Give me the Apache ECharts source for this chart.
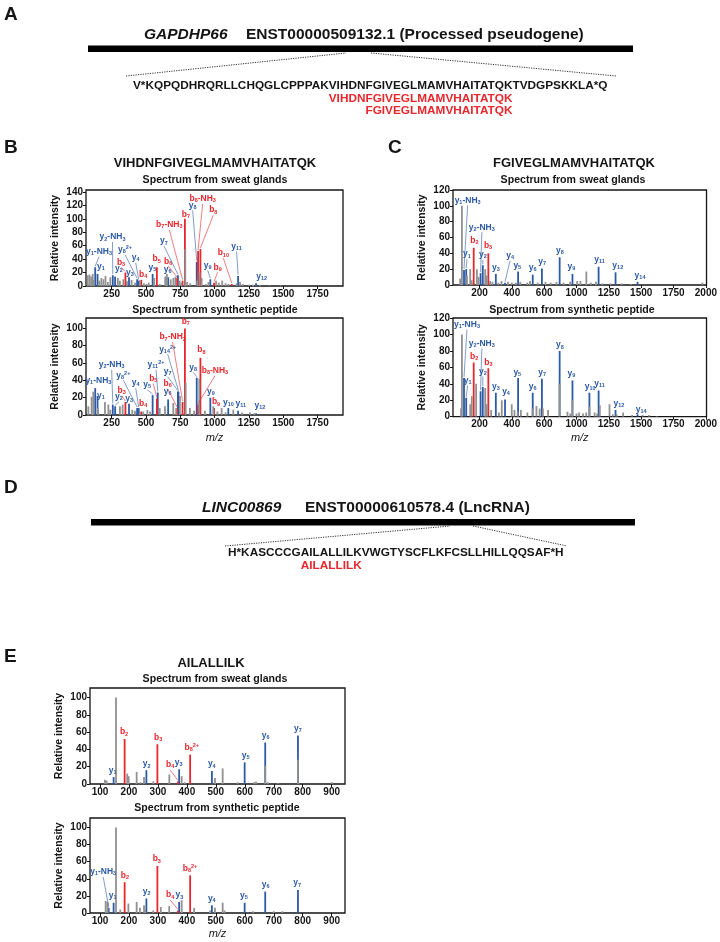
<!DOCTYPE html>
<html><head><meta charset="utf-8">
<script src="https://cdn.jsdelivr.net/npm/echarts@6/dist/echarts.min.js"></script>
<style>html,body{margin:0;padding:0;background:#fff}#c{width:720px;height:942px}</style>
</head><body><div id="c"></div>
<script>
// ================= DATA =================
// Panel A / D gene models
const geneA = 'GAPDHP66';
const transcriptA = 'ENST00000509132.1 (Processed pseudogene)';
const seqA = 'V*KQPQDHRQRLLCHQGLCPPPAKVIHDNFGIVEGLMAMVHAITATQKTVDGPSKKLA*Q';
const peptidesA = ['VIHDNFGIVEGLMAMVHAITATQK', 'FGIVEGLMAMVHAITATQK'];
const geneD = 'LINC00869';
const transcriptD = 'ENST00000610578.4 (LncRNA)';
const seqD = 'H*KASCCCGAILALLILKVWGTYSCFLKFCSLLHILLQQSAF*H';
const peptidesD = ['AILALLILK'];
const spectrumTitles = ['Spectrum from sweat glands', 'Spectrum from synthetic peptide'];
const yAxisTitle = 'Relative intensity';
const xAxisTitle = 'm/z';

// Tick values / labels
const bXTicks = [250, 500, 750, 1000, 1250, 1500, 1750];
const bXTickLabels = ['250', '500', '750', '1000', '1250', '1500', '1750'];
const cXTicks = [250, 500, 750, 1000, 1250, 1500, 1750, 2000];
const cXTickLabels = ['200', '400', '600', '1000', '1250', '1500', '1750', '2000'];
const eXTicks = [100, 200, 300, 400, 500, 600, 700, 800, 900];
const eXTickLabels = ['100', '200', '300', '400', '500', '600', '700', '800', '900'];
const yTicks140 = [0, 20, 40, 60, 80, 100, 120, 140];
const yTicks120 = [0, 20, 40, 60, 80, 100, 120];
const yTicks100 = [0, 20, 40, 60, 80, 100];

// ---- B top: VIHDNFGIVEGLMAMVHAITATQK, sweat glands ----  [ion, m/z, intensity]
const bTopIons = [
  ['y1-NH3',130.1,28],['y1',147.1,18],['y2-NH3',258.1,16],['y2',275.2,14],['b3',350.2,20],
  ['y3',376.2,13],['y8^2+',435.3,10],['y4',447.3,8],['b4',465.3,9],['y5',548.3,18],
  ['b5',579.3,28],['y6',661.4,13],['b6',726.4,12],['y7',732.4,16],['b7-NH3',766.3,8],
  ['b7',783.4,100],['y8',869.5,36],['b8-NH3',879.4,52],['b8',896.5,55],['y9',968.6,10],
  ['b9',995.5,5],['b10',1124.6,3],['y11',1170.6,15],['y12',1301.7,4]
];
const bTopLabelAt = [
  [158,51],[172,29],[256,73],[303,26],[318,35],[383,20],[347,54],[425,42],[480,17],[546,27],
  [578,40],[658,25],[662,37],[631,67],[670,91],[791,107],[840,120],[913,130],[990,113],[949,31],
  [1022,28],[1063,49],[1160,59],[1342,14]
];
const bTopGrey = [
  [75,16],[88,17],[100,14],[112,18],[120,9],[160,8],[175,12],[190,10],[205,15],[222,6],[240,13],
  [295,12],[310,8],[335,10],[362,7],[395,9],[420,5],[455,8],[485,4],[505,3],[520,5],[560,12],
  [600,3],[640,14],[652,18],[680,10],[700,12],[715,14],[745,8],[758,5],[786,55],[800,6],[822,4],
  [872,8],[890,20],[905,12],[935,3],[955,6],[1010,8],[1030,5],[1055,8],[1080,4],[1100,3],
  [1160,4],[1185,6],[1205,3],[1250,2],[1280,2],[1330,2],[1400,1],[1480,1]
];

// ---- B bottom: synthetic ----
const bBotIons = [
  ['y1-NH3',130.1,31],['y1',147.1,22],['y2-NH3',258.1,12],['y2',275.2,10],['b3',350.2,15],
  ['y3',376.2,13],['y8^2+',435.3,8],['y4',447.3,8],['b4',465.3,4],['y5',548.3,23],
  ['b5',579.3,19],['y11^2+',585.8,26],['y6',661.4,18],['b6',726.4,8],['y7',732.4,27],
  ['y14^2+',736.4,27],['b7-NH3',766.3,15],['b7',783.4,100],['y8',869.5,43],['b8-NH3',879.4,12],
  ['b8',896.5,66],['y9',968.6,20],['b9',995.5,8],['y10',1099.6,8],['y11',1170.6,5],['y12',1301.7,2]
];
const bBotLabelAt = [
  [153,40],[172,22],[250,58],[303,21],[323,28],[378,19],[335,46],[425,37],[480,13],[509,35],
  [553,42],[573,58],[658,27],[658,36],[658,50],[658,76],[694,90],[790,108],[844,55],[1002,51],
  [903,75],[973,27],[1010,15],[1100,14],[1190,13],[1330,11]
];
const bBotGrey = [
  [80,10],[104,21],[116,27],[150,8],[201,15],[226,12],[240,6],[310,10],[330,12],[400,6],[420,5],
  [456,3],[480,4],[510,6],[530,4],[600,8],[638,10],[699,14],[720,8],[747,22],[789,37],[820,8],
  [850,5],[888,42],[929,5],[990,10],[1020,4],[1051,8],[1080,3],[1136,6],[1200,3],[1257,3],[1290,2]
];

// ---- C top: FGIVEGLMAMVHAITATQK, sweat glands ----
const cTopIons = [
  ['y1-NH3',130.1,19],['y1',147.1,20],['b2',205.1,47],['y2-NH3',258.1,15],['y2',275.2,25],
  ['b3',318.2,40],['y3',376.2,14],['y4',447.3,3],['y5',548.3,17],['y6',661.4,13],['y7',732.4,21],
  ['y8',869.5,35],['y9',968.6,14],['y11',1170.7,23],['y12',1301.7,16],['y14',1471.8,4]
];
const cTopLabelAt = [
  [158,107],[153,39],[211,56],[268,73],[276,38],[316,50],[376,22],[486,37],[542,25],[660,22],
  [735,30],[871,44],[960,23],[1178,32],[1319,25],[1491,12]
];
const cTopGrey = [
  [100,8],[114,100],[153,12],[178,20],[190,6],[230,20],[243,10],[294,20],[306,12],[332,5],[350,4],
  [395,3],[420,5],[470,4],[500,3],[530,3],[565,4],[620,3],[640,5],[700,3],[760,4],[800,3],[845,4],
  [900,3],[950,4],[1005,5],[1030,5],[1076,17],[1110,3],[1150,4],[1200,2],[1260,2],[1350,2],
  [1420,1],[1973,3]
];

// ---- C bottom: synthetic ----
const cBotIons = [
  ['y1-NH3',130.1,47],['y1',147.1,23],['b2',205.1,66],['y2-NH3',258.1,31],['y2',275.2,36],
  ['b3',318.2,59],['y3',376.2,29],['y4',447.3,21],['y5',548.3,47],['y6',661.4,29],['y7',732.4,46],
  ['y8',869.5,80],['y9',968.6,44],['y10',1099.6,29],['y11',1170.7,32],['y12',1301.7,8],['y14',1471.8,3]
];
const cBotLabelAt = [
  [153,112],[158,44],[209,73],[268,89],[276,55],[319,66],[376,37],[455,31],[542,54],[660,37],
  [735,54],[871,87],[960,52],[1106,37],[1178,40],[1327,16],[1499,9]
];
const cBotGrey = [
  [107,10],[114,100],[178,15],[190,25],[224,40],[294,35],[306,15],[340,8],[400,5],[422,20],
  [499,15],[520,8],[545,6],[570,8],[620,5],[660,10],[690,13],[715,10],[740,10],[780,8],[868,40],
  [930,6],[952,4],[968,20],[1000,4],[1020,5],[1050,4],[1075,5],[1100,12],[1140,5],[1160,4],
  [1180,14],[1255,15],[1280,3],[1310,3],[1360,5],[1430,2],[1510,2],[1560,2],[1620,1]
];

// ---- E top: AILALLILK, sweat glands ----
const eTopIons = [
  ['y1',147.1,8],['b2',185.1,52],['y2',260.2,16],['b3',298.2,46],['b4',369.3,3],['y3',373.3,17],
  ['b8^2+',411.3,34],['y4',486.4,15],['y5',599.5,25],['y6',670.5,48],['y7',783.6,56]
];
const eTopLabelAt = [
  [144,16],[183,60],[261,23],[301,54],[342,22],[372,25],[417,42],[486,23],[603,33],[672,56],[783,64]
];
const eTopGrey = [
  [117,5],[123,4],[155.3,100],[194,12],[199,9],[226.6,14],[240,2],[252,8],[284,3],[339.4,11],
  [382,9],[393,2],[497,7],[523.6,18],[575,2],[632,2],[639,3],[670.5,21],[680,2],[715,1],
  [783.6,28],[900,2]
];

// ---- E bottom: synthetic ----
const eBotIons = [
  ['y1-NH3',130.1,6],['y1',147.1,12],['b2',185.1,36],['y2',260.2,17],['b3',298.2,55],
  ['b4',369.3,3],['y3',373.3,13],['b8^2+',411.3,44],['y4',486.4,9],['y5',599.5,12],
  ['y6',670.5,25],['y7',783.6,27]
];
const eBotLabelAt = [
  [111,48],[144,20],[186,44],[261,25],[296,63],[342,21],[374,21],[411,52],[486,17],[597,20],
  [672,33],[781,35]
];
const eBotGrey = [
  [119.6,14],[126,13],[155.3,100],[170,4],[198,11],[226.6,13],[238,6],[252,9],[256,4],[284,3],
  [310,7],[339,8],[382,15],[425,6],[480,3],[497,6],[523.6,12],[530,3],[629,2],[700,2],[730,2]
];

// ================= LAYOUT / STYLE =================
const FONT = '"Liberation Sans", Arial, Helvetica, sans-serif';
const RED = '#e8262d', BLUE = '#2c5aa5', GREY = '#919191', INK = '#151515';

const panels = [
  {rect:{left:86, top:190, width:257, height:96}, x:[63,1935], ymax:143, yt:yTicks140, xt:bXTicks, xl:bXTickLabels, ions:bTopIons, at:bTopLabelAt, grey:bTopGrey, nameX:false},
  {rect:{left:86, top:318, width:257, height:97}, x:[63,1935], ymax:112, yt:yTicks100, xt:bXTicks, xl:bXTickLabels, ions:bBotIons, at:bBotLabelAt, grey:bBotGrey, nameX:true, gapX:17},
  {rect:{left:453, top:190, width:255, height:95}, x:[45,2005], ymax:120, yt:yTicks120, xt:cXTicks, xl:cXTickLabels, ions:cTopIons, at:cTopLabelAt, grey:cTopGrey, nameX:false},
  {rect:{left:453, top:318, width:255, height:98.7}, x:[45,2005], ymax:120, yt:yTicks120, xt:cXTicks, xl:cXTickLabels, ions:cBotIons, at:cBotLabelAt, grey:cBotGrey, nameX:true, gapX:16},
  {rect:{left:90, top:688, width:255, height:96}, x:[65.5,946], ymax:111, yt:yTicks100, xt:eXTicks, xl:eXTickLabels, ions:eTopIons, at:eTopLabelAt, grey:eTopGrey, nameX:false},
  {rect:{left:90, top:818, width:255, height:95}, x:[65.5,946], ymax:111, yt:yTicks100, xt:eXTicks, xl:eXTickLabels, ions:eBotIons, at:eBotLabelAt, grey:eBotGrey, nameX:true, gapX:15}
];

function ionRich(name) {
  const m = name.match(/^([by])(\d+)(\^2\+)?(-NH3)?$/);
  let s = '{m|' + m[1] + '}{s|' + m[2] + '}';
  if (m[3]) s += '{p|2+}';
  if (m[4]) s += '{m|-NH}{s|3}';
  return s;
}
function richFor(color) {
  return {
    m: {font: 'bold 8.5px ' + FONT, fill: color, lineHeight: 10},
    s: {font: 'bold 5.5px ' + FONT, fill: color, lineHeight: 4, verticalAlign: 'bottom'},
    p: {font: 'bold 5.5px ' + FONT, fill: color, lineHeight: 4, verticalAlign: 'top'}
  };
}
function stickSeries(idx, data, color, z) {
  return {
    type: 'custom', xAxisIndex: idx, yAxisIndex: idx, data: data, z: z, clip: true, silent: true,
    renderItem: function (params, api) {
      const top = api.coord([api.value(0), api.value(1)]);
      const base = api.coord([api.value(0), 0]);
      return {type: 'rect', shape: {x: top[0] - 0.9, y: top[1], width: 1.8, height: base[1] - top[1]}, style: {fill: color}};
    }
  };
}
function labelSeries(idx, ions, at) {
  const data = ions.map(function (ion, i) { return [at[i][0], at[i][1], ion[1], ion[2]]; });
  return {
    type: 'custom', xAxisIndex: idx, yAxisIndex: idx, data: data, z: 6, clip: false, silent: true,
    renderItem: function (params, api) {
      const ion = ions[params.dataIndex];
      const color = ion[0][0] === 'b' ? RED : BLUE;
      const lp = api.coord([api.value(0), api.value(1)]);
      const pp = api.coord([api.value(2), api.value(3)]);
      const children = [];
      const y0 = lp[1] + 5, y1 = pp[1] - 1;
      if (y1 - y0 > 3) {
        children.push({type: 'line', shape: {x1: lp[0], y1: y0, x2: pp[0], y2: y1}, style: {stroke: color, lineWidth: 0.6}});
      }
      children.push({type: 'text', x: lp[0], y: lp[1], style: {text: ionRich(ion[0]), rich: richFor(color), align: 'center', verticalAlign: 'middle', fill: color, font: 'bold 8.5px ' + FONT}});
      return {type: 'group', children: children};
    }
  };
}

const grids = [], xAxes = [], yAxes = [], series = [];
panels.forEach(function (p, i) {
  grids.push(Object.assign({show: true, borderColor: INK, borderWidth: 1.3, backgroundColor: 'transparent'}, p.rect));
  xAxes.push({
    gridIndex: i, type: 'value', min: p.x[0], max: p.x[1],
    axisLine: {show: false}, splitLine: {show: false},
    axisTick: {show: true, length: 3, customValues: p.xt, lineStyle: {color: INK, width: 1}},
    axisLabel: {customValues: p.xt, formatter: function (v) { const k = p.xt.indexOf(v); return k >= 0 ? p.xl[k] : ''; },
      fontSize: 10, fontWeight: 'bold', fontFamily: FONT, color: INK, margin: 3},
    name: p.nameX ? xAxisTitle : '', nameLocation: 'middle', nameGap: p.gapX || 15,
    nameTextStyle: {fontSize: 11, fontStyle: 'italic', fontFamily: FONT, color: INK}
  });
  yAxes.push({
    gridIndex: i, type: 'value', min: 0, max: p.ymax,
    axisLine: {show: false}, splitLine: {show: false},
    axisTick: {show: true, length: 3, customValues: p.yt, lineStyle: {color: INK, width: 1}},
    axisLabel: {customValues: p.yt, fontSize: 10, fontWeight: 'bold', fontFamily: FONT, color: INK, margin: 3},
    name: yAxisTitle, nameLocation: 'middle', nameGap: 25,
    nameTextStyle: {fontSize: 10.5, fontWeight: 'bold', fontFamily: FONT, color: INK}
  });
  series.push(stickSeries(i, p.ions.filter(function (d) { return d[0][0] === 'y'; }).map(function (d) { return [d[1], d[2]]; }), BLUE, 2));
  series.push(stickSeries(i, p.ions.filter(function (d) { return d[0][0] === 'b'; }).map(function (d) { return [d[1], d[2]]; }), RED, 3));
  series.push(stickSeries(i, p.grey, GREY, 4));
  series.push(labelSeries(i, p.ions, p.at));
});

// measure text for aligning peptides under the sequence
const mctx = document.createElement('canvas').getContext('2d');
const SEQFONT = 'bold 11.8px ' + FONT;
mctx.font = SEQFONT;
function tw(s) { return mctx.measureText(s).width; }

function txt(x, y, text, font, fill, align) {
  return {type: 'text', x: x, y: y, silent: true, style: {text: text, font: font, fill: fill || INK, align: align || 'left', verticalAlign: 'middle'}};
}
function geneModel(cfg) {
  const els = [];
  els.push(txt(cfg.geneX, cfg.titleY, cfg.gene, 'italic bold 15.5px ' + FONT));
  els.push(txt(cfg.trX, cfg.titleY, cfg.transcript, 'bold 15.5px ' + FONT));
  els.push({type: 'rect', silent: true, shape: {x: cfg.bar[0], y: cfg.bar[1], width: cfg.bar[2], height: cfg.bar[3]}, style: {fill: '#000'}});
  cfg.dots.forEach(function (d) {
    els.push({type: 'line', silent: true, shape: {x1: d[0], y1: d[1], x2: d[2], y2: d[3]}, style: {stroke: '#333', lineWidth: 1, lineDash: [1.2, 1.2]}});
  });
  els.push(txt(cfg.seqX, cfg.seqY, cfg.seq, SEQFONT));
  cfg.peps.forEach(function (pep, k) {
    const off = tw(cfg.seq.slice(0, cfg.seq.indexOf(pep)));
    els.push(txt(cfg.seqX + off, cfg.seqY + cfg.pepDy * (k + 1), pep, SEQFONT, RED));
  });
  return els;
}

const graphic = [].concat(
  [txt(4, 15, 'A', 'bold 19px ' + FONT), txt(4, 148, 'B', 'bold 19px ' + FONT), txt(388, 148, 'C', 'bold 19px ' + FONT),
   txt(4, 488, 'D', 'bold 19px ' + FONT), txt(4, 657, 'E', 'bold 19px ' + FONT)],
  geneModel({gene: geneA, transcript: transcriptA, geneX: 144, trX: 246, titleY: 34.5, bar: [88, 45.5, 545, 6.5],
    dots: [[126, 76, 346, 53], [371, 53, 616, 76]], seq: seqA, seqX: 133, seqY: 86, peps: peptidesA, pepDy: 12.5}),
  geneModel({gene: geneD, transcript: transcriptD, geneX: 202, trX: 305, titleY: 508, bar: [91, 519, 544, 6.5],
    dots: [[225, 546, 450, 526], [473, 526, 567, 546]], seq: seqD, seqX: 228, seqY: 553, peps: peptidesD, pepDy: 12.5}),
  [txt(215, 163, peptidesA[0], 'bold 13px ' + FONT, INK, 'center'),
   txt(215, 180.5, spectrumTitles[0], 'bold 10.6px ' + FONT, INK, 'center'),
   txt(215, 310, spectrumTitles[1], 'bold 10.6px ' + FONT, INK, 'center'),
   txt(574, 163, peptidesA[1], 'bold 13px ' + FONT, INK, 'center'),
   txt(573, 180.5, spectrumTitles[0], 'bold 10.6px ' + FONT, INK, 'center'),
   txt(572, 310, spectrumTitles[1], 'bold 10.6px ' + FONT, INK, 'center'),
   txt(211, 663, peptidesD[0], 'bold 13px ' + FONT, INK, 'center'),
   txt(215, 679, spectrumTitles[0], 'bold 10.6px ' + FONT, INK, 'center'),
   txt(217, 808, spectrumTitles[1], 'bold 10.6px ' + FONT, INK, 'center')]
);

const chart = echarts.init(document.getElementById('c'), null, {renderer: 'canvas'});
chart.setOption({
  animation: false,
  backgroundColor: '#fff',
  textStyle: {fontFamily: FONT},
  grid: grids, xAxis: xAxes, yAxis: yAxes, series: series, graphic: graphic
});
</script></body></html>
